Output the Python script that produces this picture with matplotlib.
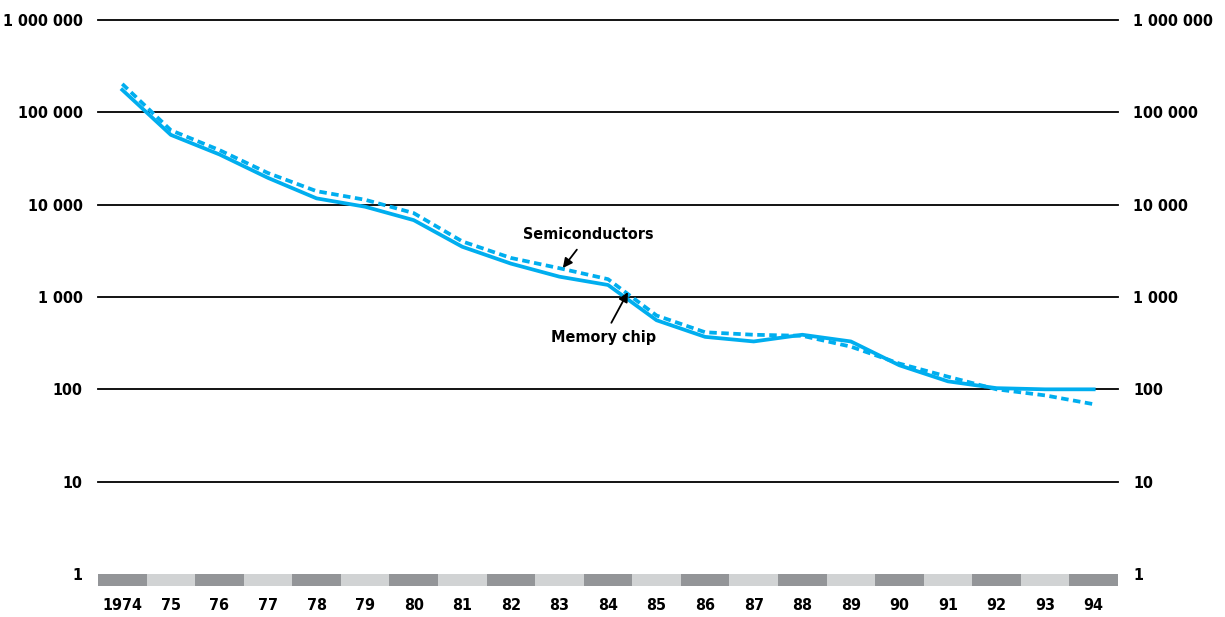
import matplotlib
matplotlib.use("Agg")
import matplotlib.pyplot as plt
import numpy as np

plt.rcParams["font.family"] = ["DejaVu Sans"]
plt.rcParams["font.stretch"] = "condensed"

years = list(range(1974, 1995))
year_labels = ["1974"] + [f"{y % 100:02d}" for y in years[1:]]
memory_chip = [175000, 57000, 35000, 19500, 11700, 9500, 6800, 3500, 2300, 1660, 1350,
               560, 370, 330, 390, 330, 182, 122, 103, 100, 100]
semiconductors = [203000, 64000, 39000, 22000, 14000, 11300, 8100, 4000, 2650, 2050, 1560,
                  630, 415, 390, 380, 290, 190, 137, 100, 86, 69]
ytick_vals = [1, 10, 100, 1000, 10000, 100000, 1000000]
ytick_labels = ["1", "10", "100", "1 000", "10 000", "100 000", "1 000 000"]

blue = "#00aeef"
fs = 11.5
W, H = 1225, 617
fig = plt.figure(figsize=(W / 100, H / 100), dpi=100)
ax = fig.add_axes([98 / W, (H - 574) / H, 1020 / W, (574 - 20) / H])
ax.set_yscale("log")
ax.set_ylim(1, 1e6)
ax.set_xlim(years[0] - 0.5, years[-1] + 0.5)

for v in ytick_vals[1:]:
    ax.axhline(v, color="black", linewidth=1.3, zorder=1, clip_on=False)

ax.plot(years, memory_chip, color=blue, linewidth=2.7, solid_joinstyle="round", zorder=3)
ax.plot(years, semiconductors, color=blue, linewidth=2.7, linestyle=(0, (2.0, 1.2)), zorder=3)

ax.set_yticks(ytick_vals)
ax.set_yticklabels(ytick_labels)
ax.yaxis.set_minor_locator(matplotlib.ticker.NullLocator())
ax.tick_params(axis="y", length=0, pad=11, labelsize=fs, labelright=True, right=False)
for lab in ax.yaxis.get_ticklabels(which="major"):
    lab.set_fontweight("bold")
for t in ax.yaxis.get_major_ticks():
    t.label2.set_fontweight("bold")
ax.set_xticks([])
for s in ax.spines.values():
    s.set_visible(False)

ax.annotate("Semiconductors", xy=(1983.07, 2060), xytext=(1983.59, 4700),
            ha="center", va="center", fontsize=fs, fontweight="bold",
            arrowprops=dict(arrowstyle="-|>", color="black", lw=1.3, shrinkA=4, shrinkB=0,
                            mutation_scale=14))
ax.annotate("Memory chip", xy=(1984.41, 1130), xytext=(1983.9, 360),
            ha="center", va="center", fontsize=fs, fontweight="bold",
            arrowprops=dict(arrowstyle="-|>", color="black", lw=1.3, shrinkA=4, shrinkB=0,
                            mutation_scale=14))

band = fig.add_axes([98 / W, (H - 586) / H, 1020 / W, 12 / H])
band_colors = ["#939598" if i % 2 == 0 else "#d1d3d4" for i in range(len(years))]
band.bar(years, [1] * len(years), width=1.0, color=band_colors, linewidth=0)
band.set_xlim(years[0] - 0.5, years[-1] + 0.5)
band.set_ylim(0, 1)
band.set_yticks([])
band.set_xticks(years)
band.set_xticklabels(year_labels, fontsize=fs, fontweight="bold")
band.tick_params(axis="x", length=0, pad=9)
for s in band.spines.values():
    s.set_visible(False)

fig.savefig("out.png", dpi=100)
